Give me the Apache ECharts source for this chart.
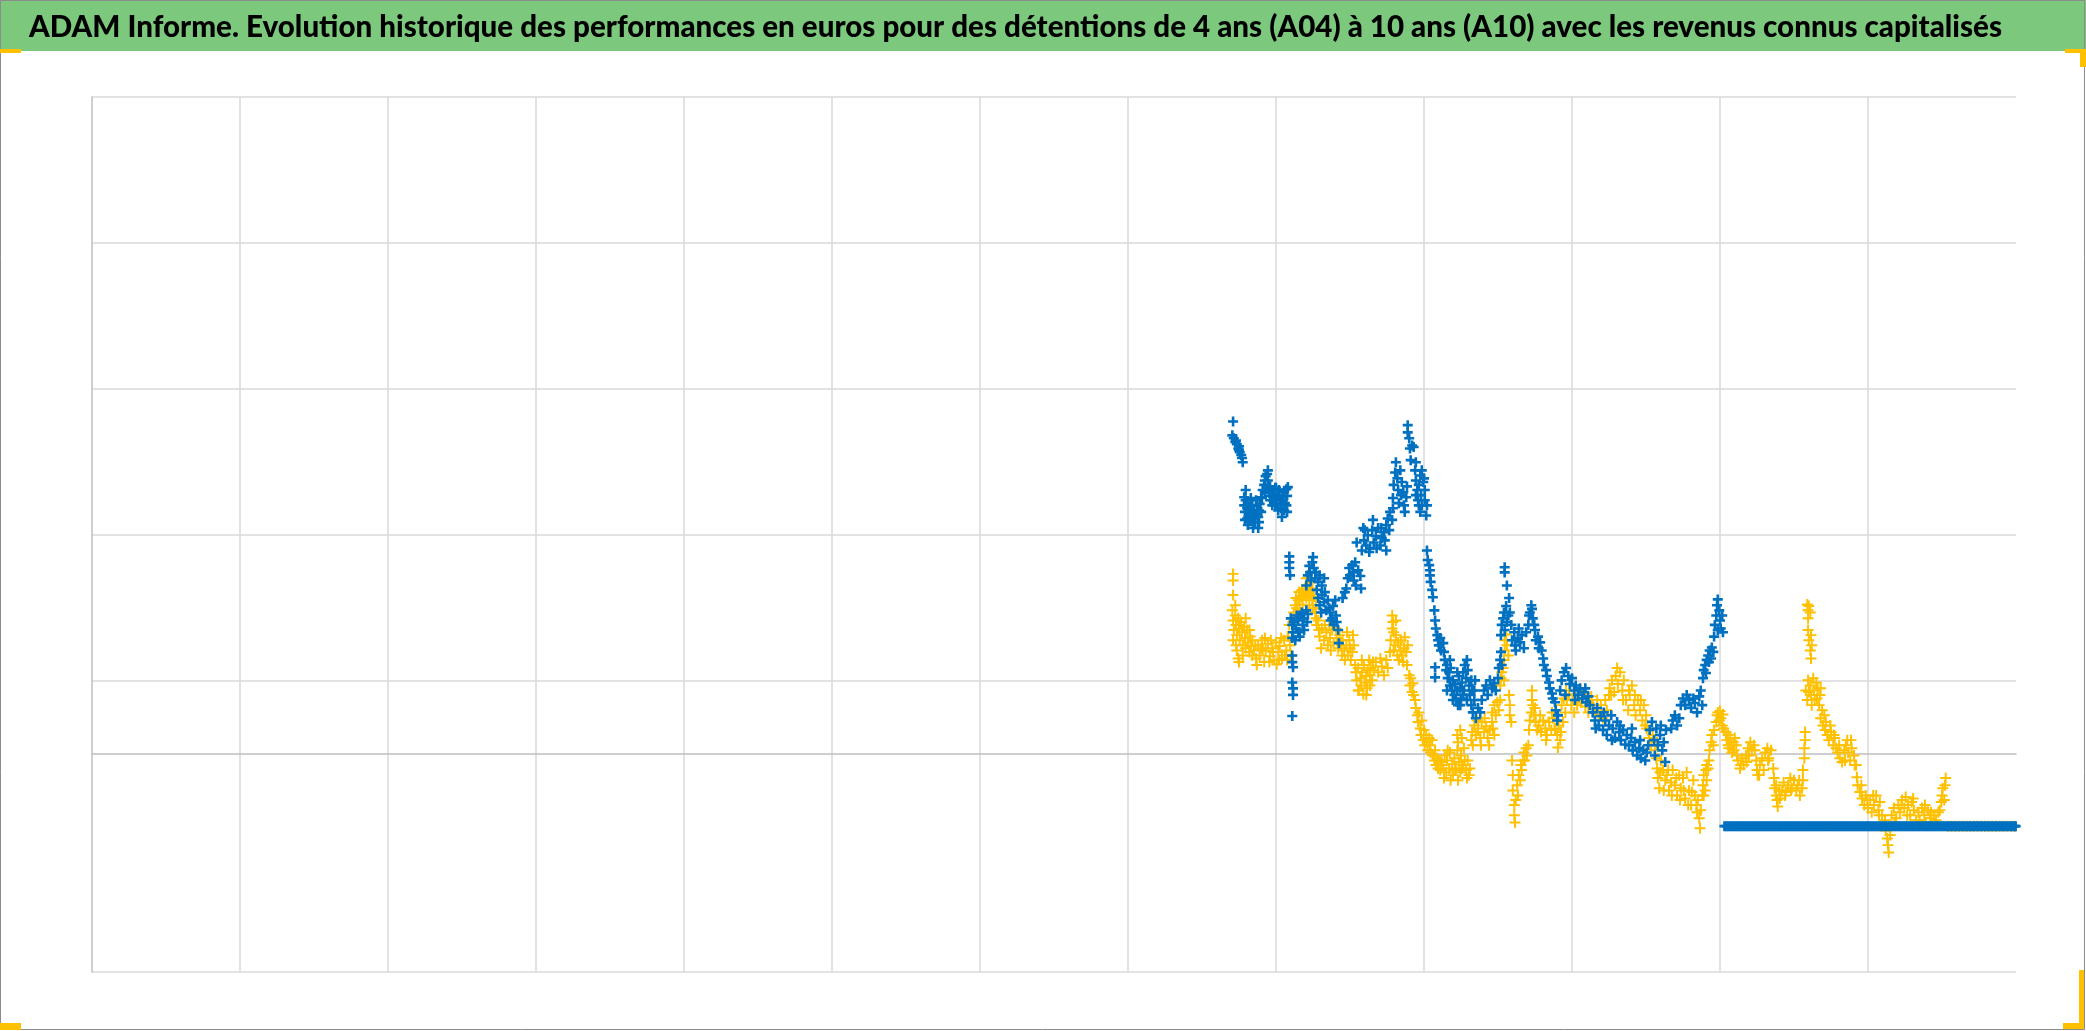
<!DOCTYPE html>
<html>
<head>
<meta charset="utf-8">
<script src="https://cdn.jsdelivr.net/npm/echarts@6/dist/echarts.min.js"></script>
<style>
html,body{margin:0;padding:0;background:#fff;}
#chart{width:2086px;height:1031px;}
</style>
</head>
<body>
<div id="chart"></div>
<script>
// Title
const chartTitle = "ADAM Informe. Evolution historique des performances en euros pour des détentions de 4 ans (A04) à 10 ans (A10) avec les revenus connus capitalisés";

// X axis: decimal years; Y axis: performance in %
const xMin = 1998, xMax = 2024, xStep = 2;
const yMin = -300, yMax = 900;
// horizontal gridline levels (the -100 level has no gridline in the reference)
const gridLevels = [-300, -100, 100, 300, 500, 700, 900];
const gridLevelShown = [true, false, true, true, true, true, true];

// Series A10 (blue) — [year, performance %]
const a10Points = [
[2013.42,455],[2013.41,436],[2013.43,432],[2013.45,427],[2013.46,429],[2013.47,424],[2013.49,418],[2013.50,421],[2013.50,416],[2013.51,413],[2013.53,409],[2013.54,405],[2013.55,399],
[2013.57,351],[2013.57,340],[2013.58,331],[2013.59,347],[2013.61,336],[2013.61,322],[2013.62,343],[2013.64,331],[2013.65,337],[2013.65,320],[2013.66,328],[2013.68,340],[2013.69,322],[2013.70,333],[2013.72,317],[2013.73,328],[2013.74,339],[2013.76,309],[2013.76,324],[2013.77,333],[2013.78,342],[2013.80,331],
[2013.58,320],[2013.62,313],[2013.66,350],[2013.69,309],[2013.73,347],[2013.77,317],[2013.80,351],[2013.59,361],
[2013.81,350],[2013.82,361],[2013.84,368],[2013.85,374],[2013.86,380],[2013.88,383],[2013.89,374],[2013.89,364],[2013.91,357],[2013.92,366],[2013.93,353],[2013.95,361],[2013.96,347],[2013.97,355],[2013.99,364],[2014.00,350],[2014.01,342],[2014.03,354],[2014.04,361],[2014.05,347],[2014.07,336],[2014.08,324],[2014.09,351],[2014.11,358],[2014.12,343],[2014.14,362],[2014.15,353],[2014.16,365],[2014.11,333],[2014.15,331],[2013.92,347],[2013.99,340],
[2013.85,358],[2013.95,340],[2014.03,333],[2014.08,347],[2014.14,340],[2013.89,388],[2014.00,364],
[2014.18,270],[2014.18,262],[2014.18,254],[2014.19,244],
[2014.20,185],[2014.22,176],[2014.23,166],[2014.24,180],[2014.22,158],[2014.22,134],[2014.22,125],[2014.23,118],[2014.22,97],[2014.23,89],[2014.23,80],[2014.22,51],
[2014.27,171],[2014.30,182],[2014.32,189],[2014.35,193],[2014.38,185],[2014.41,196],[2014.43,191],[2014.30,166],[2014.32,160],[2014.38,169],
[2014.26,155],[2014.28,189],[2014.36,176],[2014.42,180],
[2014.41,230],[2014.43,244],[2014.45,257],[2014.46,248],[2014.49,262],[2014.50,269],[2014.51,254],[2014.53,240],[2014.54,248],[2014.57,235],[2014.59,244],[2014.62,230],[2014.65,240],
[2014.57,213],[2014.59,203],[2014.62,217],[2014.65,207],[2014.68,196],[2014.70,210],[2014.73,193],[2014.74,182],[2014.77,202],[2014.78,176],[2014.81,189],[2014.82,180],[2014.84,169],[2014.85,151],
[2014.47,237],[2014.55,224],[2014.61,193],[2014.66,221],[2014.72,199],[2014.76,185],[2014.80,210],
[2014.90,213],[2014.93,221],
[2014.95,226],[2014.97,240],[2014.99,254],[2015.00,244],[2015.03,258],[2015.04,248],[2015.05,237],[2015.07,262],[2015.08,230],[2015.11,251],[2015.14,243],[2015.15,226],[2015.09,289],
[2015.16,278],[2015.18,309],[2015.19,292],[2015.22,285],[2015.24,299],[2015.27,281],[2015.30,306],[2015.32,289],[2015.35,298],[2015.38,309],[2015.41,285],[2015.43,295],[2015.46,303],[2015.49,278],
[2015.20,306],[2015.26,276],[2015.31,320],[2015.36,281],[2015.42,309],[2015.47,292],
[2015.49,313],[2015.51,322],[2015.53,306],[2015.54,331],[2015.57,320],[2015.58,336],
[2015.58,350],[2015.59,368],[2015.61,385],[2015.62,399],[2015.64,377],[2015.65,361],[2015.66,343],[2015.68,388],[2015.69,354],[2015.70,372],
[2015.72,358],[2015.73,340],[2015.74,331],[2015.76,351],[2015.77,366],
[2015.78,450],[2015.78,440],[2015.80,432],
[2015.81,418],[2015.84,422],[2015.82,402],[2015.86,420],[2015.89,399],
[2015.88,388],[2015.89,374],[2015.91,361],[2015.92,347],[2015.93,368],[2015.95,381],[2015.96,354],[2015.97,340],[2015.99,372],[2016.00,377],[2016.01,361],[2016.03,326],[2016.04,340],[2015.95,331],
[2015.89,354],[2015.93,340],[2015.97,388],[2016.01,347],
[2016.04,278],[2016.05,265],[2016.07,258],[2016.08,251],[2016.08,244],[2016.09,235],[2016.11,224],[2016.12,214],[2016.14,196],[2016.15,182],[2016.16,171],[2016.18,162],[2016.19,155],[2016.20,148],[2016.22,158],[2016.23,141],[2016.26,151],[2016.27,139],[2016.15,118],[2016.15,104],
[2016.28,128],[2016.30,114],[2016.31,121],[2016.32,103],[2016.34,111],[2016.35,93],[2016.36,117],[2016.38,86],[2016.39,100],[2016.41,80],[2016.42,95],[2016.43,73],[2016.45,86],[2016.46,66],[2016.47,106],[2016.49,89],[2016.50,75],[2016.51,97],[2016.53,111],[2016.54,86],[2016.55,121],[2016.57,103],[2016.58,128],[2016.59,114],[2016.61,93],[2016.62,80],[2016.64,66],[2016.65,86],[2016.66,56],[2016.68,73],[2016.69,100],[2016.70,48],
[2016.31,86],[2016.35,128],[2016.39,73],[2016.45,111],[2016.49,66],[2016.53,80],[2016.58,73],[2016.64,100],[2016.68,86],
[2016.73,62],[2016.76,56],[2016.78,73],[2016.81,86],[2016.84,93],[2016.86,80],[2016.89,100],[2016.92,89],[2016.95,96],[2016.97,86],[2017.00,103],
[2017.01,117],[2017.03,128],[2017.04,139],[2017.05,121],
[2017.04,162],[2017.05,176],[2017.07,185],[2017.08,193],[2017.09,169],[2017.11,202],[2017.12,180],[2017.14,189],[2017.15,213],[2017.16,193],[2017.18,176],[2017.09,255],[2017.09,248],[2017.12,230],
[2017.19,155],[2017.22,166],[2017.23,148],[2017.24,141],[2017.27,158],[2017.28,171],[2017.30,152],[2017.32,162],[2017.35,144],[2017.38,166],
[2017.41,176],[2017.42,189],[2017.43,193],[2017.45,203],[2017.46,198],[2017.47,185],[2017.49,176],[2017.50,169],
[2017.51,155],[2017.54,160],[2017.55,144],[2017.57,152],[2017.59,141],
[2017.61,130],[2017.62,121],[2017.65,114],[2017.66,106],[2017.69,97],[2017.70,89],[2017.73,82],[2017.74,75],[2017.77,70],[2017.78,59],[2017.81,52],[2017.80,45],
[2017.84,86],[2017.86,100],[2017.89,111],[2017.92,117],[2017.95,106],[2017.97,95],[2018.00,103],[2018.03,86],[2018.05,93],[2018.08,80],[2018.11,89],[2018.14,75],[2018.16,84],[2018.19,70],[2018.22,78],[2018.24,66],
[2017.91,80],[2018.04,73],[2018.18,89],
[2018.28,56],[2018.31,45],[2018.34,62],[2018.36,38],[2018.39,51],[2018.42,32],[2018.45,45],[2018.47,25],[2018.50,38],[2018.53,52],[2018.55,34],[2018.58,21],[2018.61,43],[2018.64,29],[2018.66,18],[2018.69,32],[2018.72,12],
[2018.32,34],[2018.43,56],[2018.54,18],[2018.65,38],
[2018.74,25],[2018.77,11],[2018.80,21],[2018.82,4],[2018.85,15],[2018.88,-3],[2018.91,7],[2018.93,-7],[2018.96,4],[2018.99,-10],[2019.01,1],[2019.05,32],[2019.08,43],[2019.11,18],[2019.14,34],[2019.16,11],[2019.19,25],[2019.22,4],[2019.24,15],[2019.26,-12],[2019.27,32],
[2018.81,34],[2018.92,18],[2019.03,11],[2019.12,-3],[2019.20,38],
[2019.34,34],[2019.36,45],[2019.39,52],[2019.42,38],[2019.45,48],
[2019.47,66],[2019.50,75],[2019.53,66],[2019.55,80],[2019.58,73],[2019.61,62],[2019.64,75],[2019.66,69],[2019.69,56],[2019.72,78],[2019.74,86],[2019.76,66],
[2019.77,103],[2019.78,114],[2019.80,121],[2019.81,110],[2019.82,128],[2019.84,134],[2019.85,125],[2019.86,141],[2019.88,130],[2019.89,145],[2019.91,139],
[2019.92,160],[2019.93,176],[2019.95,189],[2019.96,203],[2019.97,211],[2019.99,196],[2020.00,182],[2020.01,171],[2020.03,189],[2020.04,166],[2019.97,169]
];
// A10 dates where the value sits at -100 %
const a10LossDates = [
2020.06,2020.085,2020.11,2020.135,2020.16,2020.185,2020.21,2020.235,2020.26,2020.285,2020.31,2020.335,2020.36,2020.385,2020.41,2020.435,2020.46,2020.485,2020.51,2020.535,
2020.56,2020.585,2020.61,2020.635,2020.66,2020.685,2020.71,2020.735,2020.76,2020.785,2020.81,2020.835,2020.86,2020.885,2020.91,2020.935,2020.96,2020.985,
2021.01,2021.035,2021.06,2021.085,2021.11,2021.135,2021.16,2021.185,2021.21,2021.235,2021.26,2021.285,2021.31,2021.335,2021.36,2021.385,2021.41,2021.435,2021.46,2021.485,
2021.51,2021.535,2021.56,2021.585,2021.61,2021.635,2021.66,2021.685,2021.71,2021.735,2021.76,2021.785,2021.81,2021.835,2021.86,2021.885,2021.91,2021.935,2021.96,2021.985,
2022.01,2022.035,2022.06,2022.085,2022.11,2022.135,2022.16,2022.185,2022.21,2022.235,2022.26,2022.285,2022.31,2022.335,2022.36,2022.385,2022.41,2022.435,2022.46,2022.485,
2022.51,2022.535,2022.56,2022.585,2022.61,2022.635,2022.66,2022.685,2022.71,2022.735,2022.76,2022.785,2022.81,2022.835,2022.86,2022.885,2022.91,2022.935,2022.96,2022.985,
2023.01,2023.035,2023.06,2023.085,2023.11,2023.135,2023.16,2023.185,2023.21,2023.235,2023.26,2023.285,2023.31,2023.335,2023.36,2023.385,2023.41,2023.435,2023.46,2023.485,
2023.51,2023.535,2023.56,2023.585,2023.61,2023.635,2023.66,2023.685,2023.71,2023.735,2023.76,2023.785,2023.81,2023.835,2023.86,2023.885,2023.91,2023.935,2023.96,2023.985,2023.995];
const a10LossValue = -100;

// Series A04 (yellow) — [year, performance %]
const a04Points = [
[2013.42,246],[2013.42,237],[2013.42,217],
[2013.41,196],[2013.42,182],[2013.43,169],[2013.45,189],[2013.46,176],[2013.47,162],[2013.49,185],[2013.50,171],[2013.51,155],[2013.53,180],[2013.54,166],[2013.55,148],[2013.57,173],[2013.58,158],[2013.59,144],[2013.61,169],[2013.62,152],[2013.64,139],[2013.65,160],[2013.66,147],[2013.47,141],[2013.49,130],[2013.50,125],
[2013.42,155],[2013.46,148],[2013.51,176],[2013.55,134],[2013.59,185],[2013.64,169],[2013.68,134],[2013.45,203],
[2013.68,155],[2013.70,141],[2013.73,130],[2013.76,148],[2013.78,134],[2013.81,155],[2013.84,125],[2013.86,141],[2013.89,150],[2013.92,133],[2013.95,144],[2013.97,128],[2014.00,152],[2014.03,139],[2014.05,147],[2014.08,130],[2014.11,155],[2014.14,141],[2014.16,160],[2014.19,148],[2014.22,166],[2014.20,134],[2013.72,148],[2013.82,141],[2013.93,155],[2014.04,128],[2014.12,134],
[2013.74,121],[2013.80,144],[2013.85,158],[2013.91,125],[2013.96,139],[2014.01,122],[2014.07,158],[2014.15,128],[2014.18,176],
[2014.23,180],[2014.24,193],[2014.26,203],[2014.27,213],[2014.28,199],[2014.30,210],[2014.31,221],[2014.32,204],
[2014.34,215],[2014.35,224],[2014.36,210],[2014.38,218],[2014.39,226],[2014.41,213],[2014.42,221],[2014.43,230],[2014.45,217],[2014.46,235],[2014.47,224],[2014.49,210],[2014.50,199],[2014.51,215],[2014.53,193],[2014.54,185],[2014.55,176],[2014.57,182],[2014.58,169],
[2014.36,196],[2014.41,240],[2014.45,203],[2014.49,226],[2014.54,203],
[2014.59,160],[2014.62,171],[2014.65,155],[2014.68,166],[2014.70,148],[2014.72,176],[2014.73,158],[2014.76,169],[2014.78,152],[2014.81,171],[2014.84,144],[2014.86,162],
[2014.61,144],[2014.66,176],[2014.74,141],[2014.82,158],[2014.93,128],[2015.04,162],
[2014.88,148],[2014.89,134],[2014.90,155],[2014.92,141],[2014.95,148],[2014.96,166],[2014.97,134],[2014.99,155],[2015.00,144],[2015.01,128],[2015.03,139],[2015.05,148],
[2015.07,121],[2015.08,111],[2015.09,100],[2015.11,117],[2015.12,86],[2015.14,103],[2015.15,93],[2015.16,111],[2015.18,81],[2015.19,121],[2015.20,97],[2015.22,106],[2015.23,89],[2015.24,114],[2015.26,128],[2015.27,107],[2015.28,117],[2015.30,100],[2015.31,125],
[2015.11,86],[2015.16,128],[2015.22,80],[2015.27,93],
[2015.32,114],[2015.35,125],[2015.38,111],[2015.41,130],[2015.43,119],[2015.46,107],[2015.49,128],[2015.51,117],[2015.54,139],
[2015.55,155],[2015.57,171],[2015.58,180],[2015.59,166],[2015.61,148],[2015.62,162],[2015.64,134],[2015.65,152],[2015.66,128],[2015.68,141],
[2015.57,189],[2015.59,141],[2015.62,182],
[2015.69,155],[2015.70,134],[2015.72,125],[2015.73,144],[2015.74,159],[2015.76,139],[2015.77,121],[2015.78,148],
[2015.80,107],[2015.81,93],[2015.82,103],[2015.84,84],[2015.85,96],[2015.86,80],
[2015.88,73],[2015.89,62],[2015.91,52],[2015.92,43],[2015.93,56],[2015.95,34],[2015.96,25],[2015.97,45],[2015.99,18],[2016.00,32],[2016.01,11],[2016.03,25],[2016.04,15],[2016.05,4],[2016.07,21],[2016.08,11],[2016.09,1],[2016.11,18],
[2016.12,-3],[2016.14,-10],[2016.15,4],[2016.16,-16],[2016.18,-7],[2016.19,-21],[2016.20,-10],[2016.22,-23],[2016.23,-12],
[2016.26,-16],[2016.28,-3],[2016.30,-26],[2016.31,-10],[2016.34,-21],[2016.35,1],[2016.38,-15],[2016.39,-30],[2016.41,-7],[2016.43,-21],[2016.45,4],[2016.47,-12],[2016.49,-26],[2016.50,-3],[2016.53,-16],[2016.54,7],[2016.57,-23],[2016.58,-34],[2016.59,-10],[2016.61,-30],[2016.62,-21],
[2016.27,-34],[2016.32,4],[2016.36,-37],[2016.42,-23],[2016.46,-37],[2016.51,-21],[2016.55,-10],
[2016.45,25],[2016.46,15],[2016.49,32],[2016.51,21],
[2016.64,18],[2016.65,29],[2016.68,38],[2016.70,25],[2016.73,34],[2016.76,21],[2016.78,43],[2016.81,29],[2016.84,37],[2016.86,21],[2016.89,32],[2016.92,43],[2016.95,25],
[2016.66,11],[2016.72,45],[2016.77,11],[2016.82,48],[2016.88,11],[2016.93,34],
[2016.92,56],[2016.95,66],[2016.97,52],[2016.99,70],[2017.01,59],[2017.03,73],
[2017.03,93],[2017.04,103],[2017.05,111],[2017.07,117],[2017.08,100],
[2017.08,128],[2017.09,141],[2017.09,155],[2017.11,163],[2017.12,148],[2017.14,134],
[2017.15,80],[2017.16,66],[2017.16,52],[2017.18,43],
[2017.19,-10],[2017.20,-30],[2017.20,-51],[2017.22,-71],[2017.22,-85],[2017.23,-95],[2017.24,-64],[2017.26,-44],[2017.27,-58],[2017.28,-30],[2017.30,-37],[2017.31,-16],[2017.32,-23],[2017.34,-10],
[2017.35,1],[2017.36,-10],[2017.38,7],[2017.39,-3],[2017.41,11],
[2017.42,32],[2017.43,45],[2017.45,56],[2017.46,73],[2017.46,86],[2017.47,66],[2017.49,52],[2017.50,62],[2017.51,43],[2017.53,32],
[2017.55,38],[2017.58,29],[2017.61,45],[2017.64,34],[2017.66,25],[2017.69,43],[2017.72,32],[2017.74,48],[2017.77,34],[2017.80,25],[2017.82,38],[2017.85,29],[2017.88,43],[2017.81,8],
[2017.57,52],[2017.65,18],[2017.73,56],[2017.84,18],
[2017.86,66],[2017.89,75],[2017.92,86],[2017.93,73],[2017.96,81],[2017.99,66],
[2017.91,56],[2018.03,56],[2018.11,86],[2018.22,56],
[2018.01,73],[2018.04,80],[2018.07,66],[2018.09,75],[2018.12,70],[2018.15,81],[2018.18,64],[2018.20,75],[2018.23,69],[2018.26,78],
[2018.28,66],[2018.31,56],[2018.34,73],[2018.36,52],[2018.39,66],[2018.42,48],[2018.45,73],[2018.47,59],[2018.50,80],
[2018.51,89],[2018.54,100],[2018.57,84],[2018.59,106],[2018.62,95],[2018.65,111],[2018.68,86],[2018.70,100],[2018.73,73],[2018.76,59],[2018.78,80],[2018.81,93],[2018.84,66],[2018.86,52],[2018.89,73],[2018.92,59],[2018.95,45],[2018.97,66],[2019.00,52],
[2018.53,80],[2018.61,117],[2018.69,73],[2018.77,86],[2018.85,80],[2018.93,73],[2018.99,38],
[2019.01,34],[2019.04,21],[2019.07,11],[2019.09,25],[2019.12,4],[2019.15,15],
[2019.14,-7],[2019.15,-21],[2019.16,-34],[2019.18,-48],[2019.19,-26],[2019.20,-10],
[2019.23,-23],[2019.26,-37],[2019.28,-30],[2019.31,-51],[2019.34,-40],[2019.36,-23],[2019.39,-44],[2019.42,-58],[2019.45,-30],[2019.47,-48],
[2019.24,-51],[2019.30,-23],[2019.35,-58],[2019.41,-34],[2019.46,-64],[2019.51,-51],[2019.57,-71],[2019.62,-53],
[2019.50,-34],[2019.53,-62],[2019.55,-26],[2019.58,-51],[2019.61,-71],[2019.64,-37],[2019.66,-58],
[2019.68,-71],[2019.69,-81],[2019.70,-64],[2019.72,-89],[2019.73,-103],[2019.74,-78],[2019.76,-58],
[2019.77,-44],[2019.78,-30],[2019.80,-51],[2019.81,-23],[2019.82,-37],[2019.84,-21],[2019.85,-10],
[2019.78,-58],[2019.82,-16],
[2019.86,4],[2019.88,15],[2019.89,25],[2019.91,11],[2019.92,32],
[2019.95,43],[2019.96,52],[2019.97,56],[2019.99,45],[2020.00,58],[2020.01,48],[2020.03,38],[2020.04,53],[2020.05,34],
[2020.08,29],[2020.09,18],[2020.11,25],[2020.12,7],[2020.14,21],[2020.15,11],[2020.16,1],[2020.18,15],[2020.19,4],[2020.22,11],[2020.23,-3],
[2020.11,11],[2020.20,21],[2020.28,-16],[2020.39,-3],[2020.47,4],[2020.53,-30],[2020.65,-10],[2020.76,-44],[2020.88,-58],[2020.96,-51],[2021.07,-37],
[2020.24,-10],[2020.27,-21],[2020.30,-7],[2020.32,-16],[2020.35,-3],[2020.36,-12],
[2020.38,7],[2020.41,15],[2020.43,4],[2020.46,11],
[2020.49,-10],[2020.50,-23],[2020.51,-30],[2020.54,-16],[2020.57,-7],[2020.59,-23],
[2020.61,1],[2020.64,7],[2020.66,-7],[2020.69,4],
[2020.72,-21],[2020.73,-34],[2020.74,-48],[2020.76,-58],[2020.77,-64],[2020.78,-73],[2020.80,-51],[2020.81,-62],
[2020.84,-51],[2020.86,-40],[2020.89,-53],[2020.92,-44],[2020.95,-34],[2020.97,-48],[2021.00,-37],
[2021.03,-51],[2021.05,-44],[2021.08,-58],[2021.11,-48],[2021.12,-37],
[2021.12,-23],[2021.14,-7],[2021.14,7],[2021.15,18],[2021.15,29],
[2021.18,204],[2021.19,196],[2021.19,185],[2021.20,202],[2021.22,193],[2021.19,169],[2021.20,155],[2021.22,141],[2021.23,130],[2021.24,148],[2021.23,162],
[2021.16,86],[2021.18,73],[2021.19,100],[2021.22,93],[2021.23,80],[2021.24,66],[2021.26,103],[2021.27,86],[2021.30,97],[2021.31,75],[2021.32,89],[2021.34,66],[2021.35,80],[2021.38,59],
[2021.20,84],[2021.28,73],[2021.36,89],[2021.41,52],[2021.49,38],[2021.54,25],[2021.61,11],[2021.69,-10],[2021.77,18],[2021.82,-16],[2021.91,-44],[2021.99,-64],[2022.07,-58],[2022.15,-85],
[2021.36,48],[2021.39,38],[2021.42,32],[2021.43,43],[2021.45,25],[2021.47,18],[2021.50,29],[2021.53,11],[2021.55,21],[2021.57,7],
[2021.59,1],[2021.62,-7],[2021.65,-12],[2021.68,4],[2021.70,11],[2021.72,18],[2021.73,1],[2021.76,-10],[2021.78,7],[2021.81,-3],[2021.84,-16],[2021.85,-33],
[2021.86,-44],[2021.89,-53],[2021.92,-62],[2021.95,-71],[2021.97,-58],[2022.00,-75],[2022.03,-64],[2022.05,-81],[2022.08,-71],[2022.11,-58],[2022.14,-78],[2022.16,-67],[2022.19,-85],
[2022.23,-92],[2022.24,-106],[2022.26,-117],[2022.27,-126],[2022.28,-136],[2022.30,-112],
[2022.32,-85],[2022.35,-75],[2022.38,-89],[2022.41,-71],[2022.43,-81],[2022.46,-64],[2022.49,-75],[2022.51,-60],[2022.54,-71],[2022.57,-85],[2022.59,-67],[2022.62,-78],[2022.65,-92],
[2022.36,-95],[2022.45,-71],[2022.53,-85],[2022.61,-62],[2022.69,-99],[2022.77,-71],[2022.85,-81],[2022.93,-99],
[2022.68,-81],[2022.70,-92],[2022.73,-75],[2022.76,-85],[2022.78,-95],[2022.81,-78],[2022.84,-89],[2022.86,-99],[2022.89,-85],[2022.92,-92],[2022.95,-81],
[2022.97,-78],[2022.99,-67],[2023.00,-58],[2023.01,-48],[2023.03,-64],[2023.04,-44],[2023.05,-34]
];
// A04 dates where the value sits at -100 %
const a04LossDates = [2023.08,2023.13,2023.18,2023.23,2023.28,2023.33,2023.38,2023.43,2023.48,2023.53,2023.58,2023.63,2023.68,2023.73,2023.78,2023.83,2023.88,2023.93,2023.98];
const a04LossValue = -100;

const blueColor = '#0070C0';
const yellowColor = '#FFC000';
const gridColor = '#D9D9D9';
const axisColor = '#BFBFBF';

const a10Data = a10Points.concat(a10LossDates.map(d => [d, a10LossValue]));
const a04Data = a04Points.concat(a04LossDates.map(d => [d, a04LossValue]));

// x split line colours: hide the min (covered by axis line) and max lines
const xTickCount = (xMax - xMin) / xStep + 1;
const xSplitColors = [];
for (let i = 0; i < xTickCount; i++) xSplitColors.push(i === 0 || i === xTickCount - 1 ? 'rgba(0,0,0,0)' : gridColor);
const ySplitColors = gridLevelShown.map(s => s ? gridColor : 'rgba(0,0,0,0)');

const plusBlue = 'path://M3.7,0H6.3V3.7H10V6.3H6.3V10H3.7V6.3H0V3.7H3.7Z';
const plusYellow = 'path://M4.1,0H5.9V4.1H10V5.9H5.9V10H4.1V5.9H0V4.1H4.1Z';

// Title font: fit the title to the width it occupies in the reference
const titleFont = '900 31px Lato';
const titleTargetWidth = 1973;
const mctx = document.createElement('canvas').getContext('2d');
mctx.font = titleFont;
const titleScaleX = titleTargetWidth / mctx.measureText(chartTitle).width;

const chart = echarts.init(document.getElementById('chart'), null, {renderer: 'canvas'});
chart.setOption({
  animation: false,
  backgroundColor: '#fff',
  graphic: [
    {type: 'rect', z: -10, shape: {x: 0, y: 0, width: 2086, height: 51}, style: {fill: '#7CC87D'}},
    {type: 'text', z: 5, x: 29, y: 27, scaleX: titleScaleX, scaleY: 1,
      style: {text: chartTitle, x: 0, y: 0, font: titleFont, fill: '#000', textAlign: 'left', textVerticalAlign: 'middle'}},
    {type: 'rect', z: 10, shape: {x: 0.5, y: 0.5, width: 2084, height: 1029}, style: {fill: 'none', stroke: '#8C8C8C', lineWidth: 1}},
    {type: 'rect', z: 11, shape: {x: 0, y: 49, width: 21, height: 4}, style: {fill: '#FFC000'}},
    {type: 'rect', z: 11, shape: {x: 2065, y: 49, width: 21, height: 4}, style: {fill: '#FFC000'}},
    {type: 'rect', z: 11, shape: {x: 2080, y: 49, width: 6, height: 18}, style: {fill: '#FFC000'}},
    {type: 'rect', z: 11, shape: {x: 0, y: 1023, width: 21, height: 7}, style: {fill: '#FFC000'}},
    {type: 'rect', z: 11, shape: {x: 2079, y: 970, width: 5, height: 59}, style: {fill: '#FFC000'}},
    {type: 'rect', z: 11, shape: {x: 2063, y: 1023, width: 21, height: 6}, style: {fill: '#FFC000'}}
  ],
  grid: {left: 92, top: 97, width: 1924, height: 875, containLabel: false},
  xAxis: {
    type: 'value', min: xMin, max: xMax, interval: xStep,
    axisLabel: {show: false}, axisTick: {show: false},
    axisLine: {show: true, onZero: true, onZeroAxisIndex: 0, lineStyle: {color: axisColor, width: 1.5}},
    splitLine: {show: true, lineStyle: {color: xSplitColors, width: 1.5}}
  },
  yAxis: [
    {
      type: 'value', min: yMin, max: yMax,
      axisLabel: {show: false}, axisTick: {show: false},
      axisLine: {show: true, onZero: false, lineStyle: {color: axisColor, width: 1.5}},
      splitLine: {show: false}
    },
    {
      type: 'value', min: 0, max: gridLevels.length - 1, interval: 1, position: 'left',
      axisLabel: {show: false}, axisTick: {show: false}, axisLine: {show: false},
      splitLine: {show: true, lineStyle: {color: ySplitColors, width: 1.5}}
    }
  ],
  series: [
    {
      name: 'A04', type: 'scatter', yAxisIndex: 0, data: a04Data,
      symbol: plusYellow, symbolSize: 11,
      itemStyle: {color: yellowColor, opacity: 1}, z: 2
    },
    {
      name: 'A10', type: 'scatter', yAxisIndex: 0, data: a10Data,
      symbol: plusBlue, symbolSize: 10,
      itemStyle: {color: blueColor, opacity: 1}, z: 3
    }
  ]
});
</script>
</body>
</html>
